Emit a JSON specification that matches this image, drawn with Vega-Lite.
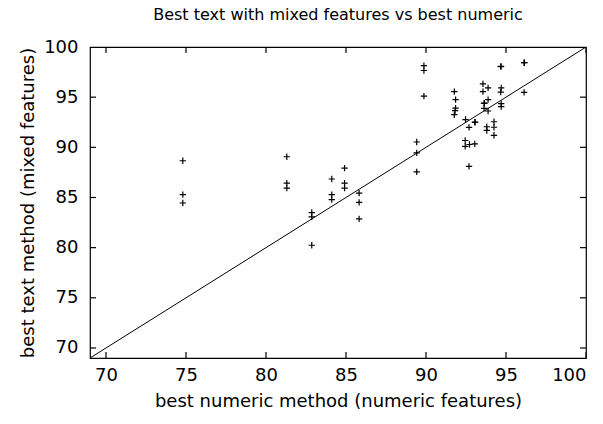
{
  "$schema": "https://vega.github.io/schema/vega-lite/v6.json",
  "autosize": "none",
  "width": 496,
  "height": 311,
  "padding": {"left": 90, "top": 47, "right": 17, "bottom": 66},
  "background": "white",
  "config": {
    "font": "DejaVu Sans",
    "view": {"stroke": "black", "strokeWidth": 1.2},
    "axis": {"grid": false, "domain": false, "ticks": false, "tickSize": 0, "labelColor": "black", "titleColor": "black", "labelFontSize": 18, "titleFontSize": 18, "titleFontWeight": "normal", "labelFont": "DejaVu Sans", "titleFont": "DejaVu Sans"}
  },
  "title": {"text": "Best text with mixed features vs best numeric", "fontSize": 16, "fontWeight": "normal", "font": "DejaVu Sans", "color": "black", "offset": 15},
  "datasets": {
    "pts": [
      {"numeric": 74.8, "text": 88.66}, {"numeric": 74.8, "text": 85.28}, {"numeric": 74.8, "text": 84.45},
      {"numeric": 81.3, "text": 89.06}, {"numeric": 81.3, "text": 86.44}, {"numeric": 81.3, "text": 85.94},
      {"numeric": 82.86, "text": 83.5}, {"numeric": 82.86, "text": 83.06}, {"numeric": 82.86, "text": 80.24},
      {"numeric": 84.11, "text": 86.84}, {"numeric": 84.11, "text": 85.28}, {"numeric": 84.11, "text": 84.78},
      {"numeric": 84.91, "text": 87.93}, {"numeric": 84.91, "text": 86.44}, {"numeric": 84.91, "text": 85.94},
      {"numeric": 85.82, "text": 85.44}, {"numeric": 85.82, "text": 84.52}, {"numeric": 85.82, "text": 82.86},
      {"numeric": 89.42, "text": 90.53}, {"numeric": 89.42, "text": 89.45}, {"numeric": 89.42, "text": 87.55},
      {"numeric": 89.87, "text": 98.15}, {"numeric": 89.87, "text": 97.66}, {"numeric": 89.87, "text": 95.1},
      {"numeric": 91.77, "text": 95.55}, {"numeric": 91.85, "text": 94.75}, {"numeric": 91.85, "text": 93.9},
      {"numeric": 91.82, "text": 93.65}, {"numeric": 91.77, "text": 93.25},
      {"numeric": 92.47, "text": 92.77}, {"numeric": 92.69, "text": 91.98},
      {"numeric": 93.05, "text": 92.5}, {"numeric": 93.07, "text": 92.52},
      {"numeric": 92.45, "text": 90.68}, {"numeric": 92.45, "text": 90.1}, {"numeric": 92.72, "text": 90.28},
      {"numeric": 93.05, "text": 90.35}, {"numeric": 92.69, "text": 88.1},
      {"numeric": 93.56, "text": 96.33}, {"numeric": 93.56, "text": 95.55}, {"numeric": 93.88, "text": 95.92},
      {"numeric": 93.63, "text": 94.38}, {"numeric": 93.65, "text": 94.4},
      {"numeric": 93.88, "text": 94.75}, {"numeric": 93.63, "text": 93.88}, {"numeric": 93.88, "text": 93.62},
      {"numeric": 93.8, "text": 92.05}, {"numeric": 93.8, "text": 91.68},
      {"numeric": 94.25, "text": 92.55}, {"numeric": 94.25, "text": 92.0}, {"numeric": 94.25, "text": 91.2},
      {"numeric": 94.67, "text": 98.05}, {"numeric": 94.69, "text": 98.07},
      {"numeric": 94.7, "text": 95.92}, {"numeric": 94.67, "text": 95.5},
      {"numeric": 94.7, "text": 94.35}, {"numeric": 94.7, "text": 94.05},
      {"numeric": 96.13, "text": 98.43}, {"numeric": 96.15, "text": 98.45},
      {"numeric": 96.13, "text": 95.47}
    ],
    "diag": [{"numeric": 69, "text": 69}, {"numeric": 100, "text": 100}],
    "ticks": [{"v": 70}, {"v": 75}, {"v": 80}, {"v": 85}, {"v": 90}, {"v": 95}, {"v": 100}]
  },
  "layer": [
    {
      "data": {"name": "diag"},
      "mark": {"type": "line", "color": "black", "strokeWidth": 1, "clip": true},
      "encoding": {
        "x": {"field": "numeric", "type": "quantitative", "scale": {"domain": [69, 100], "nice": false, "zero": false},
          "axis": {"values": [70, 75, 80, 85, 90, 95, 100], "title": "best numeric method (numeric features)", "labelPadding": 8, "titlePadding": 8}},
        "y": {"field": "text", "type": "quantitative", "scale": {"domain": [69, 100], "nice": false, "zero": false},
          "axis": {"values": [70, 75, 80, 85, 90, 95, 100], "title": "best text method (mixed features)", "labelPadding": 12, "titlePadding": 6}}
      }
    },
    {
      "data": {"name": "ticks"},
      "mark": {"type": "tick", "orient": "vertical", "size": 12, "thickness": 1.2, "color": "black", "opacity": 1, "clip": true},
      "encoding": {
        "x": {"field": "v", "type": "quantitative"},
        "y": {"datum": 69, "type": "quantitative"}
      }
    },
    {
      "data": {"name": "ticks"},
      "mark": {"type": "tick", "orient": "vertical", "size": 12, "thickness": 1.2, "color": "black", "opacity": 1, "clip": true},
      "encoding": {
        "x": {"field": "v", "type": "quantitative"},
        "y": {"datum": 100, "type": "quantitative"}
      }
    },
    {
      "data": {"name": "ticks"},
      "mark": {"type": "tick", "orient": "horizontal", "size": 12, "thickness": 1.2, "color": "black", "opacity": 1, "clip": true},
      "encoding": {
        "x": {"datum": 69, "type": "quantitative"},
        "y": {"field": "v", "type": "quantitative"}
      }
    },
    {
      "data": {"name": "ticks"},
      "mark": {"type": "tick", "orient": "horizontal", "size": 12, "thickness": 1.2, "color": "black", "opacity": 1, "clip": true},
      "encoding": {
        "x": {"datum": 100, "type": "quantitative"},
        "y": {"field": "v", "type": "quantitative"}
      }
    },
    {
      "data": {"name": "pts"},
      "mark": {"type": "point", "shape": "M-1,0L1,0M0,-1L0,1", "size": 40, "stroke": "black", "strokeWidth": 1.2, "filled": false, "opacity": 1},
      "encoding": {
        "x": {"field": "numeric", "type": "quantitative"},
        "y": {"field": "text", "type": "quantitative"}
      }
    }
  ]
}
